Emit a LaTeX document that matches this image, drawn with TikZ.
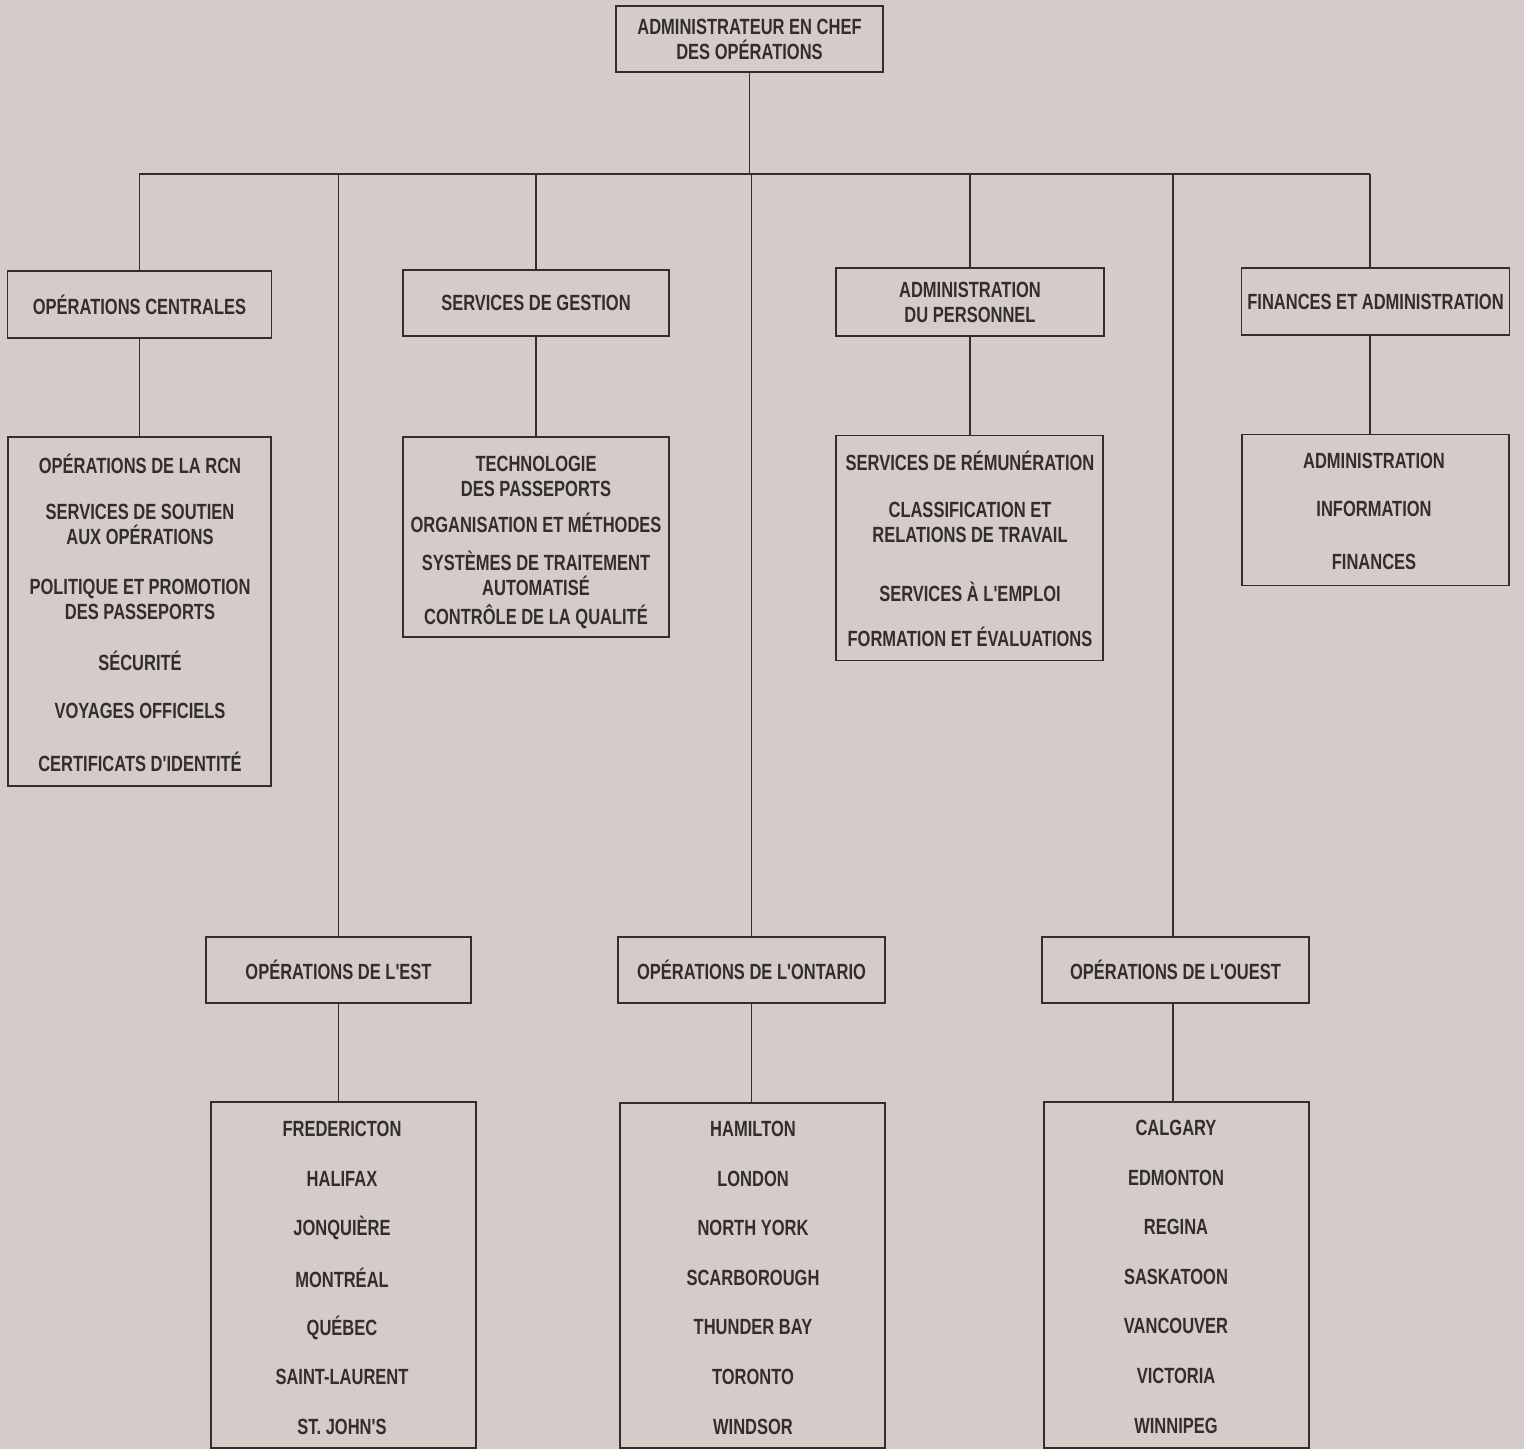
\documentclass[tikz,border=0pt]{standalone}
\usepackage{fontspec}
\setmainfont{Liberation Sans}[FakeStretch=0.75,Ligatures=TeXOff]
\usetikzlibrary{positioning}
\definecolor{paper}{RGB}{213,204,202}
\definecolor{ink}{RGB}{50,46,46}

\begin{document}
\begin{tikzpicture}[x=0.5pt,y=-0.5pt,
    box/.style={draw=ink,line width=0.9pt,inner sep=0pt,text=ink,align=center,
      font=\fontsize{11}{12.5}\selectfont\bfseries},
    item/.style={text=ink,align=center,inner sep=0pt,font=\fontsize{11}{12.5}\selectfont\bfseries},
    link/.style={draw=ink,line width=0.9pt}]

    \fill[paper] (0,0) rectangle (1524,1449);
    \useasboundingbox (0,0) rectangle (1524,1449);

    % head of the chart
    \node[box,minimum width=133.5pt,minimum height=33pt] (chef) at (749.5,39)
        {ADMINISTRATEUR EN CHEF\\DES OPÉRATIONS};

    % first row of directorates
    \node[box,minimum width=132pt,minimum height=33.5pt] (centr) at (139.5,304.5) {OPÉRATIONS CENTRALES};
    \node[box,minimum width=133pt,minimum height=33pt] (gest) at (536,303) {SERVICES DE GESTION};
    \node[box,minimum width=134pt,minimum height=34pt] (pers) at (970,302) {ADMINISTRATION\\DU PERSONNEL};
    \node[box,minimum width=134pt,minimum height=33.5pt] (fin) at (1375.5,301.5) {FINANCES ET ADMINISTRATION};

    % their sections
    \node[box,minimum width=131.5pt,minimum height=174.5pt] (centrL) at (139.5,611.5) {};
    \node[box,minimum width=133pt,minimum height=100pt] (gestL) at (536,537) {};
    \node[box,minimum width=133.5pt,minimum height=112.5pt] (persL) at (969.5,548) {};
    \node[box,minimum width=133.5pt,minimum height=75.5pt] (finL) at (1375.5,510) {};

    \foreach \y/\t [count=\i] in {464/{OPÉRATIONS DE LA RCN},
        524.5/{SERVICES DE SOUTIEN\\AUX OPÉRATIONS},
        599/{POLITIQUE ET PROMOTION\\DES PASSEPORTS},
        661/{SÉCURITÉ}, 711/{VOYAGES OFFICIELS}, 762/{CERTIFICATS D'IDENTITÉ}}
        \node[item] (centr-\i) at (140,\y) {\t};
    \foreach \y/\t [count=\i] in {476.5/{TECHNOLOGIE\\DES PASSEPORTS},
        523/{ORGANISATION ET MÉTHODES},
        573/{SYSTÈMES DE TRAITEMENT\\AUTOMATISÉ},
        617/{CONTRÔLE DE LA QUALITÉ}}
        \node[item] (gest-\i) at (536,\y) {\t};
    \foreach \y/\t [count=\i] in {461/{SERVICES DE RÉMUNÉRATION},
        522.5/{CLASSIFICATION ET\\RELATIONS DE TRAVAIL},
        592/{SERVICES À L'EMPLOI}, 637/{FORMATION ET ÉVALUATIONS}}
        \node[item] (pers-\i) at (970,\y) {\t};
    \foreach \y/\t [count=\i] in {461/ADMINISTRATION, 509/INFORMATION, 562/FINANCES}
        \node[item] (fin-\i) at (1374,\y) {\t};

    % regional operations
    \node[box,minimum width=132.5pt,minimum height=33pt] (est) at (338.5,970) {OPÉRATIONS DE L'EST};
    \node[box,minimum width=133.5pt,minimum height=33pt] (ont) at (751.5,970) {OPÉRATIONS DE L'ONTARIO};
    \node[box,minimum width=133.5pt,minimum height=33pt] (oue) at (1175.5,970) {OPÉRATIONS DE L'OUEST};

    \node[box,minimum width=132.5pt,minimum height=173pt] (estL) at (343.5,1275) {};
    \node[box,minimum width=132.5pt,minimum height=172.5pt] (ontL) at (752.5,1275.5) {};
    \node[box,minimum width=132.5pt,minimum height=173pt] (oueL) at (1176.5,1275) {};

    % offices, one every 49.6 px
    \foreach \t [count=\i] in {FREDERICTON, HALIFAX, JONQUIÈRE, MONTRÉAL, QUÉBEC, SAINT-LAURENT, {ST.\ JOHN'S}}
        \node[item] (est-\i) at (342,1129+49.6*\i-49.6) {\t};
    \foreach \t [count=\i] in {HAMILTON, LONDON, NORTH YORK, SCARBOROUGH, THUNDER BAY, TORONTO, WINDSOR}
        \node[item] (ont-\i) at (753,1129+49.6*\i-49.6) {\t};
    \foreach \t [count=\i] in {CALGARY, EDMONTON, REGINA, SASKATOON, VANCOUVER, VICTORIA, WINNIPEG}
        \node[item] (oue-\i) at (1176,1128+49.6*\i-49.6) {\t};

    % connectors
    \coordinate (busL) at (139,174);
    \coordinate (busR) at (1370,174);
    \coordinate (oueJ) at (1173,174);
    \draw[link] (chef.south) -- (chef.south |- busL);
    \draw[link] (busL) -- (busR);
    \draw[link] (centr.north |- busL) -- (centr.north);
    \draw[link] (gest.north |- busL) -- (gest.north);
    \draw[link] (pers.north |- busL) -- (pers.north);
    \draw[link] (busR) -- (busR |- fin.north);
    \draw[link] (centr.south) -- (centr.south |- centrL.north);
    \draw[link] (gest.south) -- (gest.south |- gestL.north);
    \draw[link] (pers.south) -- (pers.south |- persL.north);
    \draw[link] (fin.south -| busR) -- (finL.north -| busR);
    \draw[link] (est.north |- busL) -- (est.north);
    \draw[link] (ont.north |- busL) -- (ont.north);
    \draw[link] (oueJ) -- (oueJ |- oue.north);
    \draw[link] (est.south) -- (est.south |- estL.north);
    \draw[link] (ont.south) -- (ont.south |- ontL.north);
    \draw[link] (oue.south -| oueJ) -- (oueL.north -| oueJ);
\end{tikzpicture}
\end{document}
